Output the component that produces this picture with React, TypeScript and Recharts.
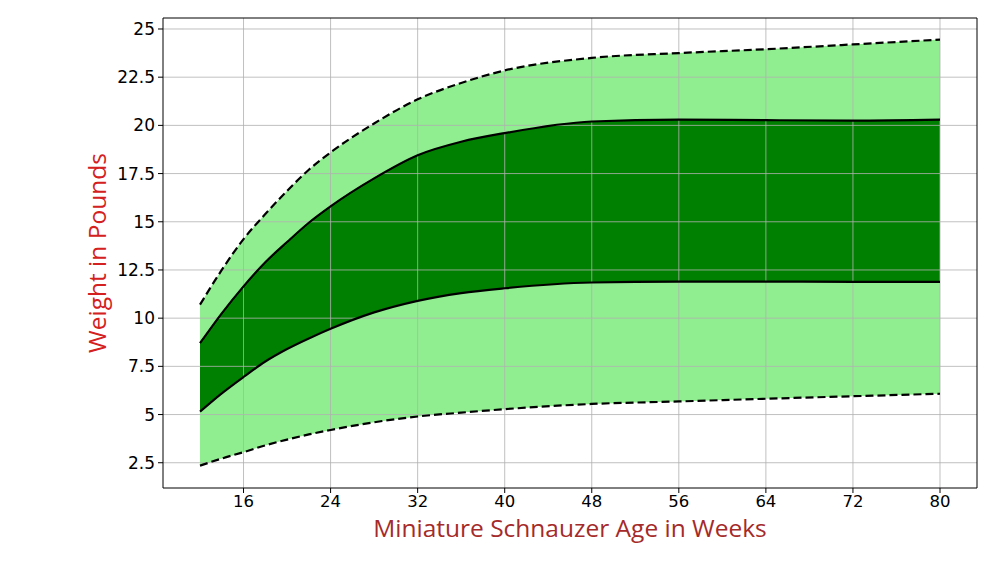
import React from "react";
import {
  ComposedChart,
  Area,
  Line,
  XAxis,
  YAxis,
  ReferenceLine,
} from "recharts";

const weeks = [12, 14, 16, 18, 20, 22, 24, 28, 32, 36, 40, 48, 56, 64, 72, 80];
const upperDashed = [10.7, 12.5, 14.1, 15.4, 16.6, 17.7, 18.6, 20.1, 21.35, 22.2, 22.85, 23.5, 23.75, 23.95, 24.2, 24.45];
const upperSolid = [8.7, 10.25, 11.65, 12.9, 13.95, 14.95, 15.8, 17.25, 18.45, 19.15, 19.6, 20.2, 20.3, 20.27, 20.25, 20.3];
const lowerSolid = [5.15, 6.1, 6.95, 7.75, 8.4, 8.95, 9.45, 10.3, 10.9, 11.3, 11.55, 11.85, 11.9, 11.9, 11.88, 11.88];
const lowerDashed = [2.35, 2.72, 3.05, 3.4, 3.7, 3.97, 4.2, 4.6, 4.9, 5.1, 5.28, 5.55, 5.68, 5.82, 5.95, 6.08];

const xTicks = [16, 24, 32, 40, 48, 56, 64, 72, 80];
const yTicks = [2.5, 5, 7.5, 10, 12.5, 15, 17.5, 20, 22.5, 25];
const xDomain = [8.6, 83.4];
const yDomain = [1.19, 25.57];

const data = weeks.map((w, i) => ({
  week: w,
  ud: upperDashed[i],
  us: upperSolid[i],
  ls: lowerSolid[i],
  ld: lowerDashed[i],
  outer: [lowerDashed[i], upperDashed[i]],
  inner: [lowerSolid[i], upperSolid[i]],
}));

const FONT = "'DejaVu Sans', sans-serif";
const LABEL_FONT = "'Open Sans', sans-serif";
const GRID = "#b0b0b0";

export default function App() {
  return (
    <div style={{ position: "absolute", left: 0, top: 0, background: "#fff" }}>
      <ComposedChart
        width={1000}
        height={583}
        data={data}
        margin={{ top: 18, right: 23, bottom: 35, left: 83 }}
      >
        <XAxis
          dataKey="week"
          type="number"
          domain={xDomain}
          ticks={xTicks}
          allowDataOverflow
          height={60}
          tickSize={5}
          tickMargin={2}
          stroke="#000"
          tick={{ fill: "#000", fontSize: 16.5, fontFamily: FONT }}
          label={{
            content: (props: any) => {
              const vb = props.viewBox;
              return (
                <text
                  x={vb.x + vb.width / 2}
                  y={vb.y + 49}
                  textAnchor="middle"
                  fill="#a52a2a"
                  fontSize={24.5}
                  fontFamily={LABEL_FONT}
                >
                  Miniature Schnauzer Age in Weeks
                </text>
              );
            },
          }}
        />
        <YAxis
          type="number"
          domain={yDomain}
          ticks={yTicks}
          allowDataOverflow
          width={80}
          tickSize={5}
          tickMargin={3}
          stroke="#000"
          tick={{ fill: "#000", fontSize: 17, fontFamily: FONT }}
          label={{
            content: (props: any) => {
              const vb = props.viewBox;
              const cx = vb.x + 23;
              const cy = vb.y + vb.height / 2;
              return (
                <text
                  x={cx}
                  y={cy}
                  textAnchor="middle"
                  transform={`rotate(-90 ${cx} ${cy})`}
                  fill="#d42020"
                  fontSize={24.5}
                  fontFamily={LABEL_FONT}
                >
                  Weight in Pounds
                </text>
              );
            },
          }}
        />
        <Area
          type="monotone"
          dataKey="outer"
          fill="#90ee90"
          fillOpacity={1}
          stroke="none"
          isAnimationActive={false}
          activeDot={false}
        />
        <Area
          type="monotone"
          dataKey="inner"
          fill="#008000"
          fillOpacity={1}
          stroke="none"
          isAnimationActive={false}
          activeDot={false}
        />
        {xTicks.map((t) => (
          <ReferenceLine key={`gx${t}`} x={t} stroke={GRID} strokeOpacity={0.8} strokeWidth={1} />
        ))}
        {yTicks.map((t) => (
          <ReferenceLine key={`gy${t}`} y={t} stroke={GRID} strokeOpacity={0.8} strokeWidth={1} />
        ))}
        <Line type="monotone" dataKey="ud" stroke="#000" strokeWidth={2.2} strokeDasharray="8 4" dot={false} activeDot={false} isAnimationActive={false} />
        <Line type="monotone" dataKey="us" stroke="#000" strokeWidth={2.2} dot={false} activeDot={false} isAnimationActive={false} />
        <Line type="monotone" dataKey="ls" stroke="#000" strokeWidth={2.2} dot={false} activeDot={false} isAnimationActive={false} />
        <Line type="monotone" dataKey="ld" stroke="#000" strokeWidth={2.2} strokeDasharray="8 4" dot={false} activeDot={false} isAnimationActive={false} />
        <ReferenceLine y={yDomain[1]} stroke="#000" strokeWidth={1} ifOverflow="visible" />
        <ReferenceLine x={xDomain[1]} stroke="#000" strokeWidth={1} ifOverflow="visible" />
      </ComposedChart>
    </div>
  );
}
